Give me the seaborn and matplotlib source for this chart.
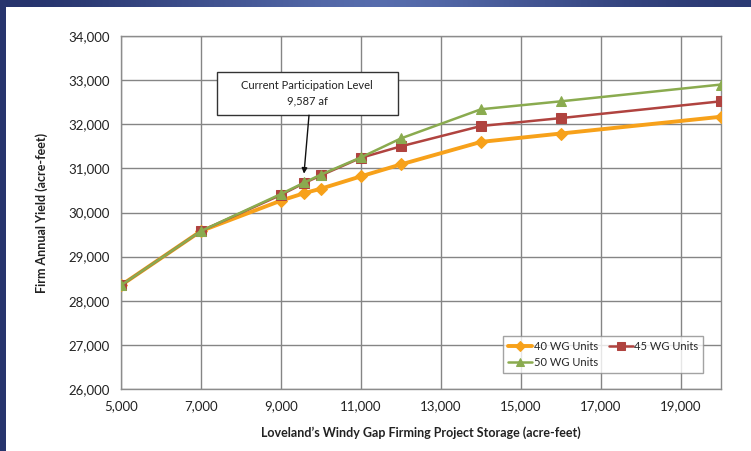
import numpy as np
import pandas as pd
import matplotlib
matplotlib.use("Agg")
import matplotlib.pyplot as plt
from matplotlib.patches import Rectangle
import seaborn as sns

# Storage options (acre-feet) and firm annual yield (acre-feet) per Windy Gap unit count
storage = [5000, 7000, 9000, 9587, 10000, 11000, 12000, 14000, 16000, 20000]
yield_40 = [28350, 29580, 30270, 30440, 30540, 30820, 31090, 31600, 31790, 32170]
yield_45 = [28350, 29580, 30400, 30670, 30840, 31240, 31500, 31960, 32140, 32520]
yield_50 = [28350, 29580, 30420, 30680, 30860, 31250, 31680, 32340, 32520, 32900]
series_names = ["40 WG Units", "45 WG Units", "50 WG Units"]

x_ticks = [5000, 7000, 9000, 11000, 13000, 15000, 17000, 19000]
y_ticks = [26000, 27000, 28000, 29000, 30000, 31000, 32000, 33000, 34000]

df = pd.DataFrame({
    "storage": storage * 3,
    "yield": yield_40 + yield_45 + yield_50,
    "units": sum([[n] * len(storage) for n in series_names], []),
})

sns.set_theme(style="white")
plt.rcParams["font.family"] = ["Lato", "DejaVu Sans"]

fig = plt.figure(figsize=(7.51, 4.51), dpi=100)
fig.patch.set_facecolor("white")

# slide frame: dark blue band on top and left
band = fig.add_axes([0, 1 - 7 / 451, 1, 7 / 451])
grad = np.array([[0.0, 0.35, 0.65, 1.0, 0.7, 0.35, 0.1]])
band.imshow(grad, aspect="auto", cmap=matplotlib.colors.LinearSegmentedColormap.from_list(
    "band", ["#26336c", "#5c73b4"]), extent=(0, 1, 0, 1), interpolation="bicubic")
band.axis("off")
fig.add_artist(Rectangle((0, 0), 6 / 751, 1, transform=fig.transFigure,
                         facecolor="#27346d", edgecolor="none", zorder=5))

ax = fig.add_axes([121 / 751, 1 - 389 / 451, 600 / 751, 353 / 451])

styles = {
    "40 WG Units": dict(color="#f7a11a", marker="D", lw=2.8, ms=6),
    "45 WG Units": dict(color="#b0433f", marker="s", lw=1.8, ms=7),
    "50 WG Units": dict(color="#8aab4f", marker="^", lw=1.8, ms=7),
}
for name in series_names:
    st = styles[name]
    sns.lineplot(data=df[df["units"] == name], x="storage", y="yield", ax=ax,
                 color=st["color"], marker=st["marker"], linewidth=st["lw"],
                 markersize=st["ms"], markeredgecolor=st["color"], label=name,
                 zorder=3)

ax.set_xlim(5000, 20000)
ax.set_ylim(26000, 34000)
ax.set_xticks(x_ticks)
ax.set_yticks(y_ticks)
ax.set_xticklabels([f"{v:,}" for v in x_ticks])
ax.set_yticklabels([f"{v:,}" for v in y_ticks])
ax.tick_params(axis="both", labelsize=9.5, colors="#222222", length=4,
               width=1, direction="out", pad=4)
ax.tick_params(axis="both", color="#8a8a8a")
ax.grid(True, color="#858585", linewidth=1)
ax.set_axisbelow(True)
for s in ax.spines.values():
    s.set_color("#8c8c8c")
    s.set_linewidth(1)

ax.set_xlabel("Loveland\u2019s Windy Gap Firming Project Storage (acre-feet)",
              fontsize=9, fontweight="bold", color="#222222", labelpad=10)
ax.set_ylabel("Firm Annual Yield (acre-feet)", fontsize=9, fontweight="bold",
              color="#222222", labelpad=15)

# callout for current participation level
ax.add_patch(Rectangle((0.16, 0.776), 0.3017, 0.1218, transform=ax.transAxes,
                       facecolor="white", edgecolor="#333333", linewidth=1, zorder=6))
ax.text(0.31, 0.838, "Current Participation Level\n9,587 af", transform=ax.transAxes,
        ha="center", va="center", fontsize=8, color="#222222", linespacing=1.5, zorder=7)
ax.annotate("", xy=(9575, 30880), xytext=(9700, 32205),
            arrowprops=dict(arrowstyle="-|>", color="#111111", lw=1,
                            mutation_scale=8, shrinkA=0, shrinkB=0), zorder=7)

handles, labels = ax.get_legend_handles_labels()
order = [0, 2, 1]
leg = ax.legend([handles[i] for i in order], [labels[i] for i in order],
                ncol=2, loc="upper right", bbox_to_anchor=(0.98, 0.166),
                fontsize=8, frameon=True, fancybox=False, edgecolor="#8c8c8c",
                handlelength=2.2, handletextpad=0.1, columnspacing=1.0,
                borderpad=0.45, labelspacing=0.45, markerscale=0.8)
leg.get_frame().set_linewidth(1)
leg.set_zorder(8)

fig.savefig("out.png", dpi=100)
